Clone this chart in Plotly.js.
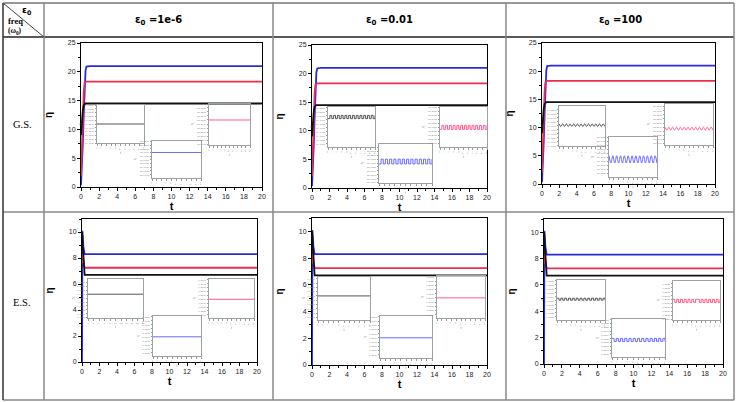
<!DOCTYPE html>
<html><head><meta charset="utf-8">
<script src="https://cdn.plot.ly/plotly-3.0.1.min.js"></script>
<style>html,body{margin:0;padding:0;background:#fff}#chart{width:738px;height:402px}</style>
</head><body><div id="chart"></div>
<script>
// main curves: ground state (G.S.) row and excited state (E.S.) row
var tGS = [0, 0.1, 0.2, 0.3, 0.4, 0.5, 0.6, 0.8, 1, 20];
var gsBlue = [0.3, 3, 7.5, 12.5, 17, 20.2, 20.9, 21.0, 21.0, 21.0];
var gsRed = [2, 7, 12.5, 16.5, 18.1, 18.3, 18.3, 18.3, 18.3, 18.3];
var gsBlack = [9, 11.5, 13.3, 14.2, 14.45, 14.5, 14.5, 14.5, 14.5, 14.5];

var tES = [0, 0.05, 0.1, 0.15, 0.2, 0.25, 0.3, 0.4, 20];
var esBlue = [0, 10.1, 9.6, 8.9, 8.5, 8.35, 8.3, 8.3, 8.3];
var esRed = [7.6, 8.3, 8.25, 7.8, 7.5, 7.3, 7.25, 7.25, 7.25];
var esBlack = [10, 9.4, 8.4, 7.5, 6.95, 6.75, 6.7, 6.7, 6.7];

// inset (zoomed steady state) series
var tFlat = [0, 20];
var tOsc = [0,0.8,1.6,2.4,3.2,4,4.8,5.6,6.4,7.2,8,8.8,9.6,10.4,11.2,12,12.8,13.6,14.4,15.2,16,16.8,17.6,18.4,19.2,20];

var gs1Black = [14.5, 14.5];
var gs1Blue = [21.0, 21.0];
var gs1Red = [18.3, 18.3];

var gs2Black = [14.494,14.506,14.494,14.506,14.494,14.506,14.494,14.506,14.494,14.506,14.494,14.506,14.494,14.506,14.494,14.506,14.494,14.506,14.494,14.506,14.494,14.506,14.494,14.506,14.494,14.506];
var gs2Blue = [20.992,21.008,20.992,21.008,20.992,21.008,20.992,21.008,20.992,21.008,20.992,21.008,20.992,21.008,20.992,21.008,20.992,21.008,20.992,21.008,20.992,21.008,20.992,21.008,20.992,21.008];
var gs2Red = [18.29,18.31,18.29,18.31,18.29,18.31,18.29,18.31,18.29,18.31,18.29,18.31,18.29,18.31,18.29,18.31,18.29,18.31,18.29,18.31,18.29,18.31,18.29,18.31,18.29,18.31];

var gs3Black = [14.503,14.497,14.503,14.497,14.503,14.497,14.503,14.497,14.503,14.497,14.503,14.497,14.503,14.497,14.503,14.497,14.503,14.497,14.503,14.497,14.503,14.497,14.503,14.497,14.503,14.497];
var gs3Blue = [21.02,20.98,21.02,20.98,21.02,20.98,21.02,20.98,21.02,20.98,21.02,20.98,21.02,20.98,21.02,20.98,21.02,20.98,21.02,20.98,21.02,20.98,21.02,20.98,21.02,20.98];
var gs3Red = [18.304,18.296,18.304,18.296,18.304,18.296,18.304,18.296,18.304,18.296,18.304,18.296,18.304,18.296,18.304,18.296,18.304,18.296,18.304,18.296,18.304,18.296,18.304,18.296,18.304,18.296];

var es1Black = [6.7, 6.7];
var es1Blue = [8.3, 8.3];
var es1Red = [7.25, 7.25];

var es2Black = [6.7, 6.7];
var es2Blue = [8.3, 8.3];
var es2Red = [7.25, 7.25];

var es3Black = [6.7,6.697,6.7,6.697,6.7,6.697,6.7,6.697,6.7,6.697,6.7,6.697,6.7,6.697,6.7,6.697,6.7,6.697,6.7,6.697,6.7,6.697,6.7,6.697,6.7,6.697];
var es3Blue = [8.303,8.297,8.303,8.297,8.303,8.297,8.303,8.297,8.303,8.297,8.303,8.297,8.303,8.297,8.303,8.297,8.303,8.297,8.303,8.297,8.303,8.297,8.303,8.297,8.303,8.297];
var es3Red = [7.253,7.247,7.253,7.247,7.253,7.247,7.253,7.247,7.253,7.247,7.253,7.247,7.253,7.253,7.247,7.253,7.247,7.253,7.247,7.253,7.247,7.253,7.247,7.253,7.247,7.253];

var colHeads = ['ε<sub>0</sub> =1e-6', 'ε<sub>0</sub> =0.01', 'ε<sub>0</sub> =100'];
var rowHeads = ['G.S.', 'E.S.'];

// ---- layout in pixels ----
var W = 738, H = 402;
function X(px) { return px / W; }
function Y(py) { return 1 - py / H; }

var mains = [
  {box: [81, 262, 43, 187], row: 0},
  {box: [312, 487, 45, 188], row: 0},
  {box: [542, 715, 43, 184], row: 0},
  {box: [82, 257, 219, 362], row: 1},
  {box: [312, 487, 218, 365], row: 1},
  {box: [544, 723, 219, 364], row: 1}
];
var insetBoxes = [
  [[97, 144, 105, 143], [152, 201, 141, 178], [209, 250, 104, 145]],
  [[328, 375, 107, 147], [379, 432, 144, 183], [440, 487, 107, 147]],
  [[559, 605, 106, 146], [609, 657, 137, 177], [665, 713, 104, 145]],
  [[88, 143, 279, 318], [153, 201, 316, 356], [209, 254, 279, 318]],
  [[318, 370, 277, 320], [380, 432, 316, 358], [437, 485, 276, 318]],
  [[557, 605, 280, 320], [612, 665, 319, 357], [673, 720, 281, 320]]
];
var insetY = [
  [gs1Black, gs1Blue, gs1Red], [gs2Black, gs2Blue, gs2Red], [gs3Black, gs3Blue, gs3Red],
  [es1Black, es1Blue, es1Red], [es2Black, es2Blue, es2Red], [es3Black, es3Blue, es3Red]
];
var insetF = [[0.50, 0.69, 0.61], [0.75, 0.55, 0.49], [0.52, 0.44, 0.40],
              [0.61, 0.48, 0.48], [0.56, 0.48, 0.48], [0.52, 0.45, 0.49]];
var insetSpan = [[0.1, 0.1, 0.1], [0.15, 0.13, 0.2], [0.09, 0.22, 0.11],
                 [0.1, 0.1, 0.1], [0.1, 0.1, 0.1], [0.06, 0.075, 0.075]];
var insetShape = ['linear', 'hv', 'spline', 'linear', 'linear', 'hv'];
var insetColors = ['#555555', '#6a6aff', '#ff5c8a'];
var mainColors = ['#2b2bd6', '#ee2d4b', '#111111'];

var data = [];
var layout = {
  width: W, height: H, margin: {l: 0, r: 0, t: 0, b: 0},
  paper_bgcolor: '#fff', plot_bgcolor: 'rgba(0,0,0,0)', showlegend: false,
  font: {family: 'Liberation Sans, Arial, sans-serif', color: '#222'},
  shapes: [], annotations: []
};

var n = 0;
function axName(k) { return k === 1 ? '' : String(k); }

mains.forEach(function (m, p) {
  n++;
  var id = axName(n);
  var b = m.box;
  var gs = m.row === 0;
  layout['xaxis' + id] = {
    domain: [X(b[0]), X(b[1])], anchor: 'y' + id, range: [0, 20], dtick: 2,
    ticks: 'outside', ticklen: 3, tickwidth: 1, tickcolor: '#000',
    tickfont: {size: 7, color: '#222'},
    minor: {dtick: 1, ticks: 'outside', ticklen: 2, tickcolor: '#000'},
    showline: true, mirror: true, linecolor: '#000', linewidth: 1,
    showgrid: false, zeroline: false, automargin: false, fixedrange: true,
    title: {text: '<b>t</b>', font: {size: 11, color: '#000'}, standoff: 2}
  };
  layout['yaxis' + id] = {
    domain: [Y(b[3]), Y(b[2])], anchor: 'x' + id,
    range: gs ? [0, 25] : [0, 11], dtick: gs ? 5 : 2,
    ticks: 'outside', ticklen: 3, tickwidth: 1, tickcolor: '#000',
    tickfont: {size: 7, color: '#222'},
    minor: {dtick: gs ? 2.5 : 1, ticks: 'outside', ticklen: 2, tickcolor: '#000'},
    showline: true, mirror: true, linecolor: '#000', linewidth: 1,
    showgrid: false, zeroline: false, automargin: false, fixedrange: true,
    title: {text: '<b>η</b>', font: {size: 10, color: '#000'}, standoff: 13}
  };
  var t = gs ? tGS : tES;
  var ys = gs ? [gsBlue, gsRed, gsBlack] : [esBlue, esRed, esBlack];
  ys.forEach(function (yv, i) {
    data.push({x: t, y: yv, type: 'scatter', mode: 'lines', xaxis: 'x' + id, yaxis: 'y' + id,
      line: {color: mainColors[i], width: 1.8}, hoverinfo: 'skip'});
  });

  insetBoxes[p].forEach(function (ib, i) {
    n++;
    var iid = axName(n);
    var yv = insetY[p][i];
    var lev = (Math.min.apply(null, yv) + Math.max.apply(null, yv)) / 2;
    var span = insetSpan[p][i];
    var lo = lev - insetF[p][i] * span;
    layout['xaxis' + iid] = {
      domain: [X(ib[0]), X(ib[1])], anchor: 'y' + iid, range: [0, 20], dtick: 2,
      ticks: 'outside', ticklen: 1.5, tickcolor: '#999', tickfont: {size: 2.5, color: '#888'},
      showline: true, mirror: true, linecolor: '#9aa3a3', linewidth: 1,
      showgrid: false, zeroline: false, automargin: false, fixedrange: true,
      title: {text: 't', font: {size: 3, color: '#666'}, standoff: 2}
    };
    layout['yaxis' + iid] = {
      domain: [Y(ib[3]), Y(ib[2])], anchor: 'x' + iid, range: [lo, lo + span],
      dtick: span / 10, tickformat: '.4f',
      ticks: 'outside', ticklen: 1.5, tickcolor: '#999', tickfont: {size: 2.5, color: '#888'},
      showline: true, mirror: true, linecolor: '#9aa3a3', linewidth: 1,
      showgrid: false, zeroline: false, automargin: false, fixedrange: true,
      title: {text: 'η', font: {size: 3, color: '#666'}, standoff: 3}
    };
    data.push({x: yv.length === 2 ? tFlat : tOsc, y: yv, type: 'scatter', mode: 'lines',
      xaxis: 'x' + iid, yaxis: 'y' + iid,
      line: {color: insetColors[i], width: 1, shape: insetShape[p]}, hoverinfo: 'skip'});
  });
});

// table grid
function seg(x0, y0, x1, y1, c, w) {
  layout.shapes.push({type: 'line', xref: 'paper', yref: 'paper',
    x0: X(x0), y0: Y(y0), x1: X(x1), y1: Y(y1), line: {color: c, width: w}});
}
seg(3, 3, 734, 3, '#333', 1.2);
seg(3, 37, 734, 37, '#222', 1.5);
seg(3, 212, 734, 212, '#888', 1.5);
seg(3, 400, 734, 400, '#888', 1.5);
seg(3, 3, 3, 400, '#333', 1.5);
[44, 273, 506, 734].forEach(function (x) { seg(x, 3, x, 400, '#888', 1.5); });
seg(3, 3, 44, 37, '#444', 1);

function note(txt, x, y, size, fam, bold) {
  layout.annotations.push({text: bold ? '<b>' + txt + '</b>' : txt, xref: 'paper', yref: 'paper',
    x: X(x), y: Y(y), showarrow: false, xanchor: 'center', yanchor: 'middle',
    font: {size: size, family: fam, color: '#000'}});
}
var colMid = [158, 389, 620];
colHeads.forEach(function (h, i) { note(h, colMid[i], 20, 10, 'DejaVu Sans, sans-serif', true); });
note('ε<sub>0</sub>', 27, 10, 9, 'DejaVu Sans, sans-serif', true);
note('freq', 15, 21, 8.5, 'Liberation Serif, serif', true);
note('(ω<sub>0</sub>)', 15, 31, 7.5, 'Liberation Serif, serif', true);
note(rowHeads[0], 22, 125, 10.5, 'Liberation Serif, serif', false);
note(rowHeads[1], 22, 302, 10.5, 'Liberation Serif, serif', false);

Plotly.newPlot('chart', data, layout, {staticPlot: true, displayModeBar: false});
</script>
</body></html>
